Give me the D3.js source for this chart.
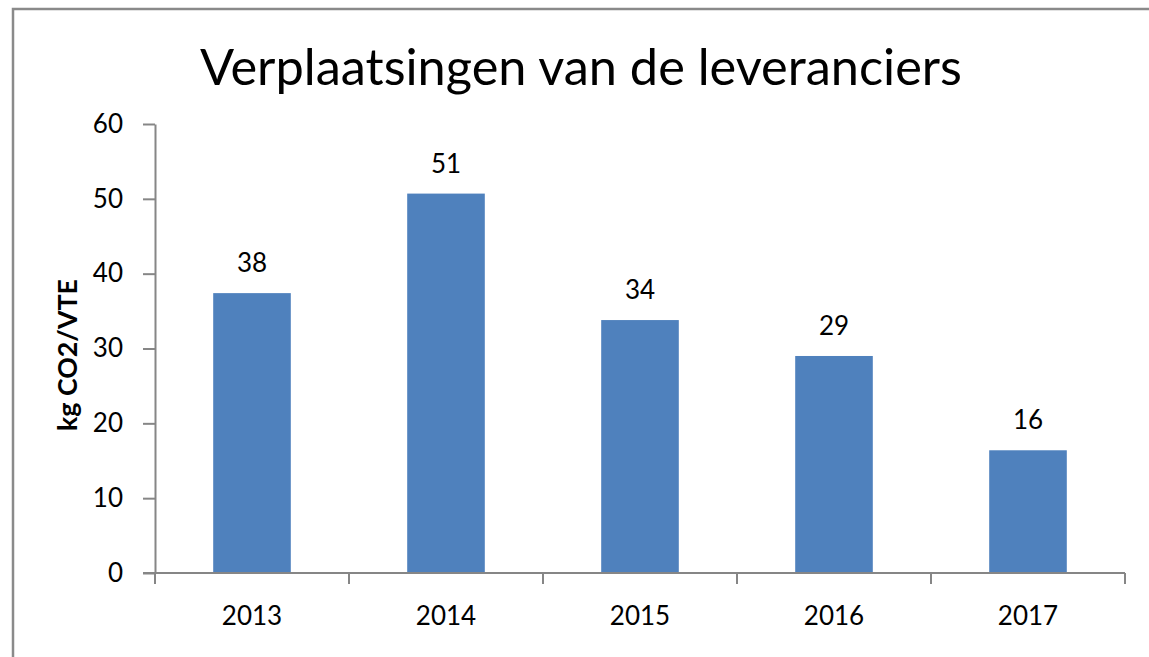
<!DOCTYPE html>
<html>
<head>
<meta charset="utf-8">
<script src="https://cdn.jsdelivr.net/npm/d3@7"></script>
<style>
  body { margin: 0; background: #fff; }
  svg { display: block; font-family: Lato, "Open Sans", sans-serif; }
</style>
</head>
<body>
<svg id="chart" width="1149" height="657"></svg>
<script>
// data
var years = ["2013", "2014", "2015", "2016", "2017"];
var values = [37.4, 50.7, 33.8, 29.0, 16.4];
var valueLabels = ["38", "51", "34", "29", "16"];
var yTicks = [0, 10, 20, 30, 40, 50, 60];
var title = "Verplaatsingen van de leveranciers";
var yTitle = "kg CO2/VTE";

var svg = d3.select("#chart");
var axisColor = "#868686";

// outer frame (only left and top are visible in the crop)
svg.append("rect")
  .attr("x", 13).attr("y", 9)
  .attr("width", 1200).attr("height", 700)
  .style("fill", "none")
  .style("stroke", "#8a8a8a")
  .style("stroke-width", 2.5);

// plot area (window.top is read-only, so no "top" here)
var plotLeft = 155, plotRight = 1125, plotTop = 124, plotBottom = 573;

var x = d3.scaleBand().domain(years).range([plotLeft, plotRight]).padding(0);
var y = d3.scaleLinear().domain([0, 60]).range([plotBottom, plotTop]);

// fit a text to a given width
function fitWidth(sel, size, target){
  var w = sel.node().getComputedTextLength();
  sel.style("font-size", (size * target / w) + "px");
}

// title
var t = svg.append("text")
  .text(title)
  .attr("x", 581)
  .attr("y", 85)
  .style("text-anchor", "middle")
  .style("fill", "#000")
  .style("font-size", "50px");
fitWidth(t, 50, 762);

// y axis
var yAxis = svg.append("g")
  .attr("transform", "translate(" + plotLeft + ",0)")
  .call(d3.axisLeft(y).tickValues(yTicks).tickSize(12).tickSizeOuter(0).tickPadding(20));
yAxis.selectAll("line, path").style("stroke", axisColor).style("stroke-width", 2);
yAxis.selectAll("text")
  .style("font-size", "26px")
  .style("font-family", "Lato, 'Open Sans', sans-serif")
  .style("fill", "#000");

// bars
var barW = x.bandwidth() * 0.4;
svg.selectAll(".bar").data(values)
  .enter()
  .append("rect")
    .attr("class", "bar")
    .attr("x", (d, i) => x(years[i]) + x.bandwidth() / 2 - barW / 2)
    .attr("y", d => y(d))
    .attr("width", barW)
    .attr("height", d => y(0) - y(d))
    .style("fill", "#4F81BD");

// value labels
svg.selectAll(".val").data(values)
  .enter()
  .append("text")
    .attr("class", "val")
    .attr("x", (d, i) => x(years[i]) + x.bandwidth() / 2)
    .attr("y", d => y(d) - 21)
    .text((d, i) => valueLabels[i])
    .style("text-anchor", "middle")
    .style("font-size", "26px")
    .style("fill", "#000");

// x axis line and boundary ticks
svg.append("line")
  .attr("x1", plotLeft - 12).attr("x2", plotRight)
  .attr("y1", y(0)).attr("y2", y(0))
  .style("stroke", axisColor).style("stroke-width", 2);

var bounds = years.map(d => x(d)).concat([x(years[years.length - 1]) + x.bandwidth()]);
svg.selectAll(".xtick").data(bounds)
  .enter()
  .append("line")
    .attr("class", "xtick")
    .attr("x1", d => d).attr("x2", d => d)
    .attr("y1", y(0)).attr("y2", y(0) + 11)
    .style("stroke", axisColor).style("stroke-width", 2);

// x labels
svg.selectAll(".xlab").data(years)
  .enter()
  .append("text")
    .attr("class", "xlab")
    .attr("x", d => x(d) + x.bandwidth() / 2)
    .attr("y", y(0) + 52)
    .text(d => d)
    .style("text-anchor", "middle")
    .style("font-size", "26px")
    .style("fill", "#000");

// y axis title
var yt = svg.append("text")
  .text(yTitle)
  .attr("transform", "translate(77,355) rotate(-90)")
  .style("text-anchor", "middle")
  .style("font-weight", "bold")
  .style("font-size", "21px")
  .style("fill", "#000");
fitWidth(yt, 21, 152);
</script>
</body>
</html>
